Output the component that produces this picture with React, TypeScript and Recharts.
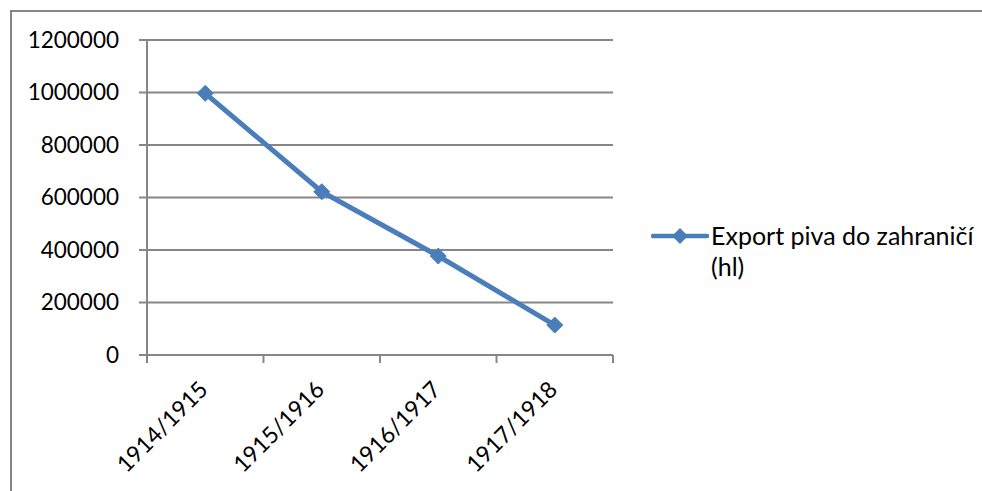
import React from "react";
import { LineChart, Line, XAxis, YAxis, CartesianGrid, Legend } from "recharts";

const periods = ["1914/1915", "1915/1916", "1916/1917", "1917/1918"];
const exportHl = [997000, 622000, 377000, 114000];
const yTicks = [0, 200000, 400000, 600000, 800000, 1000000, 1200000];
const seriesName = "Export piva do zahraničí (hl)";

const BLUE = "#4A7EBB";
const GREY = "#868686";
const FONT = "Lato, 'Noto Sans', sans-serif";

const data = periods.map((p, i) => ({ period: p, value: exportHl[i] }));

function Diamond(props: any) {
  const { cx, cy } = props;
  if (cx == null || cy == null) return null;
  const r = 8;
  return (
    <polygon
      points={`${cx},${cy - r} ${cx + r},${cy} ${cx},${cy + r} ${cx - r},${cy}`}
      fill={BLUE}
      stroke={BLUE}
      strokeWidth={1}
    />
  );
}

function XTick(props: any) {
  const { x, y, payload, index, visibleTicksCount } = props;
  const half = payload?.offset ?? 0;
  const last = index === visibleTicksCount - 1;
  const ax = x + 4;
  const ay = y + 36;
  return (
    <g>
      <line x1={x - half} x2={x - half} y1={y} y2={y + 8} stroke={GREY} strokeWidth={2} />
      {last && <line x1={x + half} x2={x + half} y1={y} y2={y + 8} stroke={GREY} strokeWidth={2} />}
      <text
        x={ax}
        y={ay}
        textAnchor="end"
        fill="#000"
        fontSize={23}
        fontFamily={FONT}
        transform={`rotate(-45, ${ax}, ${ay})`}
      >
        {payload.value}
      </text>
    </g>
  );
}

function LegendBox(props: any) {
  const { payload } = props;
  return (
    <div style={{ fontFamily: FONT, fontSize: 25, color: "#000" }}>
      {(payload || []).map((entry: any) => (
        <div key={entry.value} style={{ display: "flex", alignItems: "flex-start" }}>
          <svg width={60} height={30} style={{ flex: "none" }}>
            <line x1={2} x2={56} y1={15} y2={15} stroke={entry.color} strokeWidth={4.5} strokeLinecap="round" />
            <polygon points="29,7 37,15 29,23 21,15" fill={entry.color} />
          </svg>
          <span style={{ width: 266, lineHeight: "31px", marginTop: -1 }}>{entry.value}</span>
        </div>
      ))}
    </div>
  );
}

export default function App() {
  return (
    <div style={{ position: "absolute", left: 0, top: 0, width: 982, height: 491, background: "#fff" }}>
      <div
        style={{
          position: "absolute",
          left: 10,
          top: 10,
          right: 0,
          bottom: 0,
          borderLeft: `2px solid ${GREY}`,
          borderTop: `2px solid ${GREY}`,
        }}
      />
      <LineChart
        width={982}
        height={491}
        data={data}
        margin={{ top: 40, right: 39, bottom: 0, left: 0 }}
        style={{ position: "absolute", left: 0, top: 0 }}
      >
        <CartesianGrid vertical={false} stroke={GREY} strokeWidth={2} />
        <XAxis
          dataKey="period"
          scale="band"
          height={136}
          axisLine={{ stroke: GREY, strokeWidth: 2 }}
          tickLine={false}
          tickSize={0}
          tickMargin={0}
          interval={0}
          tick={<XTick />}
        />
        <YAxis
          width={147}
          domain={[0, 1200000]}
          ticks={yTicks}
          interval={0}
          axisLine={{ stroke: GREY, strokeWidth: 2 }}
          tickLine={{ stroke: GREY, strokeWidth: 2 }}
          tickSize={8}
          tickMargin={20}
          tick={{ fill: "#000", fontSize: 22.5, fontFamily: FONT }}
        />
        <Legend
          layout="horizontal"
          verticalAlign="middle"
          align="right"
          content={<LegendBox />}
          wrapperStyle={{ position: "absolute", left: 651, top: 221, width: 330 }}
        />
        <Line
          type="linear"
          dataKey="value"
          name={seriesName}
          stroke={BLUE}
          strokeWidth={5}
          dot={<Diamond />}
          activeDot={false}
          isAnimationActive={false}
        />
      </LineChart>
    </div>
  );
}
